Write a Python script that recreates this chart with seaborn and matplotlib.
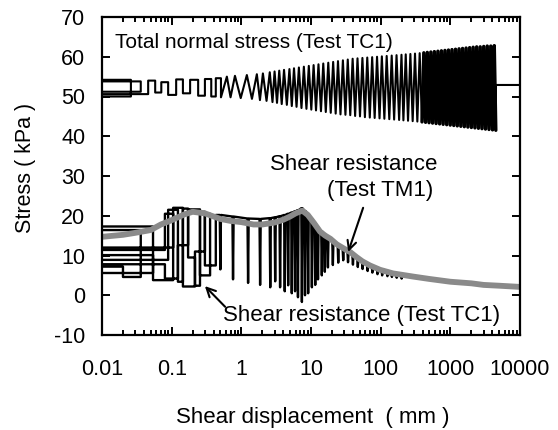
import matplotlib
matplotlib.use('Agg')
import matplotlib.pyplot as plt
import pandas as pd
import seaborn as sns
from matplotlib.ticker import FixedLocator, LogLocator, FuncFormatter, NullFormatter

# ---------------- data ----------------
# Total normal stress, Test TC1 : small-displacement square-wave part
NS_STEP_X = [0.005, 0.026, 0.026, 0.005, 0.005, 0.036, 0.036, 0.005, 0.005, 0.046, 0.046,
             0.058, 0.058, 0.071, 0.071, 0.089, 0.089, 0.116, 0.116, 0.145, 0.145, 0.184,
             0.184, 0.24, 0.24, 0.30, 0.30, 0.37, 0.37, 0.43, 0.43, 0.51, 0.51]
NS_STEP_Y = [50.0, 50.0, 54.2, 54.2, 51.2, 51.2, 53.8, 53.8, 50.6, 50.6, 54.0,
             54.0, 51.0, 51.0, 53.6, 53.6, 50.4, 50.4, 54.3, 54.3, 50.8, 50.8,
             54.2, 54.2, 50.2, 50.2, 54.4, 54.4, 50.0, 50.0, 54.6, 54.6, 49.8]
# cyclic part: peaks and troughs
NS_PEAK_X = [0.62, 0.81, 1.2, 1.67, 2.04, 2.56,
             3.0, 3.5, 4.1, 4.9, 5.7, 6.7, 7.9, 9.3, 10.9, 12.8,
             15.0, 17.7, 20.8, 24.4, 28.7, 33.7, 39.6, 46.5, 54.7, 64.2,
             75.5, 88.7, 104, 122, 144, 169, 199,
             229, 267, 311, 363,
             416, 467, 525, 590, 663, 745, 837, 940, 1056, 1187,
             1334, 1498, 1684, 1892, 2126, 2388, 2684, 3015, 3388, 3807, 4277]
NS_PEAK_Y = [55.0, 55.2, 55.4, 55.6, 55.8, 56.1,
             56.3, 56.5, 56.7, 56.9, 57.1, 57.3, 57.5, 57.7, 57.9, 58.1,
             58.3, 58.5, 58.7, 58.9, 59.1, 59.3, 59.5, 59.6, 59.7, 59.8,
             59.9, 60.0, 60.1, 60.2, 60.3, 60.4, 60.5,
             60.6, 60.7, 60.8, 60.9,
             61.0, 61.1, 61.2, 61.3, 61.4, 61.5, 61.6, 61.7, 61.8, 61.9,
             62.0, 62.1, 62.2, 62.3, 62.4, 62.5, 62.5, 62.6, 62.7, 62.7, 62.8]
NS_TROUGH_X = [0.70, 0.98, 1.42, 1.85, 2.3, 2.8,
               3.25, 3.8, 4.5, 5.3, 6.2, 7.3, 8.6, 10.1, 11.8, 13.9,
               16.3, 19.2, 22.6, 26.5, 31.2, 36.6, 43.0, 50.5, 59.4, 69.8,
               82.0, 96.3, 113, 133, 156, 184, 212,
               247, 288, 336, 392,
               441, 495, 556, 625, 702, 789, 887, 997, 1120, 1258,
               1414, 1588, 1785, 2005, 2253, 2532, 2845, 3196, 3591, 4035, 4500]
NS_TROUGH_Y = [49.8, 49.6, 49.4, 49.1, 48.9, 48.6,
               48.4, 48.1, 47.9, 47.6, 47.4, 47.1, 46.9, 46.7, 46.5, 46.3,
               46.1, 45.9, 45.7, 45.5, 45.4, 45.3, 45.1, 45.0, 44.8, 44.7,
               44.6, 44.5, 44.4, 44.3, 44.2, 44.1, 44.0,
               43.9, 43.8, 43.7, 43.6,
               43.5, 43.4, 43.3, 43.2, 43.1, 43.0, 42.9, 42.8, 42.7, 42.6,
               42.5, 42.4, 42.3, 42.2, 42.1, 42.0, 41.9, 41.8, 41.7, 41.6, 41.5]
NS_END_X = [4520, 12000]
NS_END_Y = [52.9, 52.9]

# Shear resistance, Test TC1 : small-displacement loops
SR_STEP_X = [0.005, 0.054, 0.054, 0.005,
             0.005, 0.036, 0.036, 0.02, 0.02, 0.005,
             0.005, 0.08, 0.08, 0.105, 0.105, 0.054, 0.054, 0.005,
             0.005, 0.089, 0.089, 0.123, 0.123, 0.08, 0.08, 0.005,
             0.005, 0.105, 0.105, 0.145, 0.145, 0.123, 0.123, 0.172, 0.172, 0.145, 0.145,
             0.216, 0.216, 0.172, 0.172, 0.255, 0.255, 0.216, 0.216, 0.30, 0.30, 0.255,
             0.255, 0.356, 0.356, 0.30, 0.30, 0.43, 0.43]
SR_STEP_Y = [17.3, 17.3, 5.6, 5.6,
             16.4, 16.4, 4.6, 4.6, 7.2, 7.2,
             11.4, 11.4, 20.5, 20.5, 3.8, 3.8, 10.1, 10.1,
             8.9, 8.9, 21.5, 21.5, 4.2, 4.2, 7.8, 7.8,
             12.0, 12.0, 22.0, 22.0, 3.4, 3.4, 12.6, 12.6, 21.8, 21.8, 2.2,
             2.2, 9.5, 9.5, 21.6, 21.6, 2.4, 2.4, 11.0, 11.0, 21.0, 21.0,
             5.0, 5.0, 20.5, 20.5, 7.5, 7.5, 20.2]
# cyclic drops (spikes)
SR_SPIKE_X = [0.5, 0.76, 1.25, 1.86, 2.6, 3.06, 3.6, 4.2, 4.7, 5.3,
              5.9, 6.5, 7.4, 8.2, 9.1, 10.3, 11.5, 12.6, 14.3, 15.8,
              17.5, 20.6, 24.6, 29, 34, 40, 47, 55, 65, 76,
              90, 105, 125, 145, 170, 200]
SR_SPIKE_TOP = [20.2, 19.8, 19.3, 19.2, 19.4, 19.6, 19.9, 20.2, 20.5, 20.8,
                21.1, 21.4, 21.9, 21.2, 20.3, 19.2, 18.0, 17.0, 16.0, 15.3,
                14.7, 13.8, 12.8, 11.9, 11.0, 10.2, 9.4, 8.7, 8.0, 7.4,
                6.9, 6.5, 6.1, 5.8, 5.5, 5.3]
SR_SPIKE_BOT = [6.5, 4.0, 3.1, 2.6, 2.0, 3.5, 2.0, 1.0, 2.5, 0.5,
                1.0, -0.5, -1.7, 0.0, 0.5, 2.0, 2.6, 4.0, 5.0, 5.9,
                7.0, 7.6, 8.2, 8.8, 8.3, 7.7, 7.1, 6.6, 6.1, 5.7,
                5.3, 5.0, 4.8, 4.6, 4.4, 4.2]
SR_TAIL_X = [300, 1000, 4500]
SR_TAIL_Y = [4.6, 3.3, 2.4]

# Shear resistance, Test TM1 (grey)
TM_X = [0.006, 0.01, 0.02, 0.03, 0.05, 0.07, 0.1, 0.15, 0.2, 0.3, 0.5, 0.7, 1.0, 1.5,
        2.0, 3.0, 4.0, 5.0, 6.0, 7.5, 9.0, 11, 13.5, 16, 19, 23.5, 30, 37, 45, 55,
        70, 98, 150, 292, 500, 1000, 2000, 3000, 5000, 10000]
TM_Y = [14.7, 14.7, 15.2, 15.7, 16.4, 17.8, 18.9, 20.3, 21.0, 20.6, 19.2, 18.7, 18.4, 17.8,
        17.8, 18.3, 19.0, 19.8, 20.6, 21.3, 20.2, 18.2, 16.0, 15.0, 14.2, 12.8, 11.7, 10.8, 9.6, 8.5,
        7.5, 6.4, 5.5, 4.7, 4.1, 3.4, 3.0, 2.6, 2.4, 2.1]

Y_TICKS = [-10, 0, 10, 20, 30, 40, 50, 60, 70]

# ---------------- build line tables ----------------
def interleave(a, b):
    out = []
    for p, q in zip(a, b):
        out += [p, q]
    return out

ns = pd.DataFrame({
    'x': NS_STEP_X + interleave(NS_PEAK_X, NS_TROUGH_X) + NS_END_X,
    'y': NS_STEP_Y + interleave(NS_PEAK_Y, NS_TROUGH_Y) + NS_END_Y,
})
# the part where cycles are too dense to separate (drawn with a heavier stroke)
ns_dense = ns[(ns['x'] >= 392) & (ns['x'] <= 4500)]

SPIKE_HALF_WIDTH = 1.02  # style: horizontal half-width factor of a drop
sx, sy = list(SR_STEP_X), list(SR_STEP_Y)
for x, t, b in zip(SR_SPIKE_X, SR_SPIKE_TOP, SR_SPIKE_BOT):
    sx += [x / SPIKE_HALF_WIDTH, x, x * SPIKE_HALF_WIDTH]
    sy += [t, b, t]
sx += SR_TAIL_X
sy += SR_TAIL_Y
sr = pd.DataFrame({'x': sx, 'y': sy})
tm = pd.DataFrame({'x': TM_X, 'y': TM_Y})

# ---------------- figure ----------------
sns.set_theme(style='ticks')
plt.rcParams['font.family'] = ['Liberation Sans', 'DejaVu Sans']
plt.rcParams['axes.unicode_minus'] = False
plt.rcParams['text.color'] = 'black'
FS = 15.5

fig = plt.figure(figsize=(5.58, 4.30), dpi=100)
ax = fig.add_axes([102 / 558, 1 - 335 / 430, 418 / 558, 318 / 430])

sns.lineplot(data=ns, x='x', y='y', sort=False, estimator=None, color='black', lw=1.5, ax=ax)
sns.lineplot(data=ns_dense, x='x', y='y', sort=False, estimator=None, color='black', lw=2.4, ax=ax)
sns.lineplot(data=sr, x='x', y='y', sort=False, estimator=None, color='black', lw=1.7, ax=ax)
sns.lineplot(data=tm, x='x', y='y', sort=False, estimator=None, color='#8a8a8a', lw=4.2, ax=ax)

ax.set_xscale('log')
ax.set_xlim(0.01, 10000)
ax.set_ylim(-10, 70)
ax.yaxis.set_major_locator(FixedLocator(Y_TICKS))
ax.xaxis.set_major_locator(LogLocator(base=10, numticks=20))
ax.xaxis.set_minor_locator(LogLocator(base=10, subs=[2, 3, 4, 5, 6, 7, 8, 9], numticks=20))
ax.xaxis.set_major_formatter(FuncFormatter(lambda v, p: f'{v:g}'))
ax.xaxis.set_minor_formatter(NullFormatter())
ax.set_xlabel('')
ax.set_ylabel('')

for s in ax.spines.values():
    s.set_linewidth(1.6)
    s.set_color('black')
    s.set_visible(True)
ax.tick_params(which='both', direction='in', top=True, right=True, width=1.4, color='black',
               labelsize=FS, labelcolor='black')
ax.tick_params(which='major', length=6)
ax.tick_params(which='minor', length=3.5)
ax.tick_params(axis='x', pad=17)
ax.tick_params(axis='y', pad=12)

ax.text(0.0154, 63.5, 'Total normal stress (Test TC1)', fontsize=15, ha='left', va='center', color='black')
ax.text(2.6, 32.8, 'Shear resistance', fontsize=16, ha='left', va='center', color='black')
ax.text(16.9, 26.3, '(Test TM1)', fontsize=16, ha='left', va='center', color='black')
ax.text(0.548, -5.0, 'Shear resistance (Test TC1)', fontsize=16, ha='left', va='center', color='black')

arrow = dict(arrowstyle='->', color='black', lw=1.5, mutation_scale=16, shrinkA=0, shrinkB=0)
ax.annotate('', xy=(34.2, 10.9), xytext=(56, 22.0), arrowprops=arrow)
ax.annotate('', xy=(0.30, 2.3), xytext=(0.585, -2.9), arrowprops=arrow)

fig.text(25 / 558, 1 - 168 / 430, 'Stress ( kPa )', rotation=90, ha='center', va='center',
         fontsize=15.5, color='black')
fig.text(313 / 558, 1 - 418 / 430, 'Shear displacement  ( mm )', ha='center', va='center',
         fontsize=16, color='black')

fig.savefig('out.png', dpi=100, facecolor='white')
